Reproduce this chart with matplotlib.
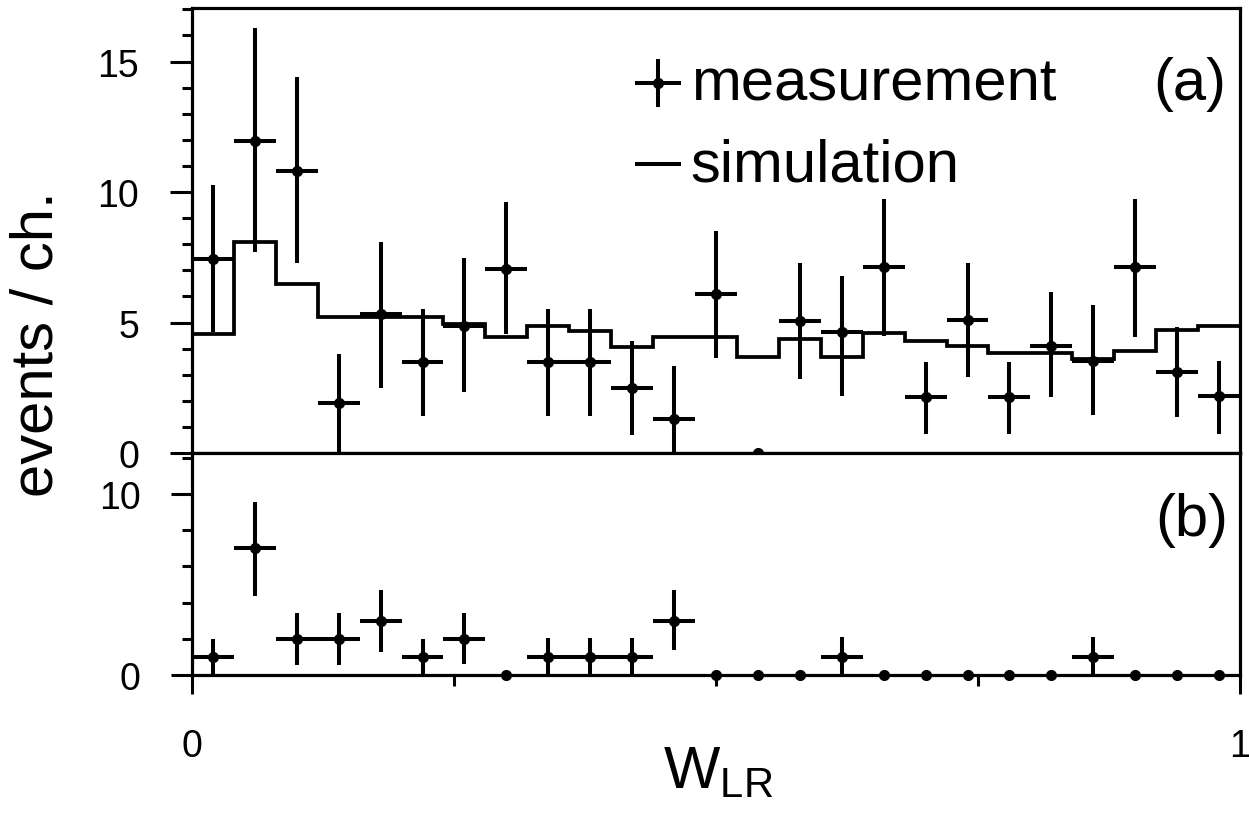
import numpy as np
import matplotlib
matplotlib.use('Agg')
import matplotlib.pyplot as plt
from matplotlib.ticker import MultipleLocator, FixedLocator

plt.rcParams['font.family'] = 'Liberation Sans'
plt.rcParams['mathtext.fontset'] = 'custom'
plt.rcParams['mathtext.rm'] = 'Liberation Sans'

# 25 channels in W_LR from 0 to 1
edges = np.linspace(0, 1, 26)
centers = (edges[:-1] + edges[1:]) / 2

# (a) measurement with error bar ends
meas_a = [7.43, 11.97, 10.82, 1.9, 5.33, 3.49, 4.88, 7.05, 3.49, 3.49, 2.48, 1.3, 6.09,
          0.0, 5.07, 4.63, 7.12, 2.14, 5.11, 2.14, 4.11, 3.54, 7.12, 3.12, 2.17]
hi_a = [10.27, 16.27, 14.4, 3.8, 8.1, 5.52, 7.47, 9.63, 5.52, 5.52, 4.3, 3.35, 8.52,
        0.0, 7.3, 6.8, 9.73, 3.48, 7.3, 3.48, 6.17, 5.66, 9.73, 4.82, 3.54]
lo_a = [4.63, 7.7, 7.3, 0.0, 2.49, 1.42, 2.35, 4.56, 1.42, 1.42, 0.7, 0.0, 3.64,
        0.0, 2.84, 2.2, 4.5, 0.73, 2.92, 0.73, 2.14, 1.44, 4.44, 1.38, 0.73]
# (a) simulation
sim_a = [4.55, 8.08, 6.47, 5.2, 5.2, 5.2, 4.94, 4.45, 4.87, 4.66, 4.05, 4.45, 4.45,
         3.67, 4.37, 3.67, 4.6, 4.3, 4.1, 3.82, 3.82, 3.6, 3.9, 4.7, 4.85]

# (b) measurement
meas_b = [1, 7, 2, 2, 3, 1, 2, 0, 1, 1, 1, 3, 0, 0, 0, 1, 0, 0, 0, 0, 0, 1, 0, 0, 0]
hi_b = [2.0, 9.55, 3.4, 3.4, 4.7, 2.0, 3.4, 0, 2.05, 2.05, 2.05, 4.7, 0, 0, 0, 2.1,
        0, 0, 0, 0, 0, 2.1, 0, 0, 0]
lo_b = [0, 4.36, 0.55, 0.55, 1.28, 0, 0.6, 0, 0, 0, 0, 1.36, 0, 0, 0, 0,
        0, 0, 0, 0, 0, 0, 0, 0, 0]

fig = plt.figure(figsize=(12.49, 8.2), dpi=100)
ax1 = fig.add_axes([0.1537, 0.4463, 0.8391, 0.5427])
ax2 = fig.add_axes([0.1537, 0.1756, 0.8391, 0.2707])

for ax in (ax1, ax2):
    for s in ax.spines.values():
        s.set_linewidth(2.3)
    ax.set_xlim(0, 1)

def draw_meas(ax, y, lo, hi):
    y = np.array(y, float)
    err = [y - np.array(lo), np.array(hi) - y]
    xerr = np.where(y > 0, 0.02, 0.0)
    ax.errorbar(centers, y, yerr=err, xerr=xerr, fmt='o', color='k', ms=7,
                elinewidth=2.9, capsize=0, clip_on=False, zorder=3)

# top panel
ax1.stairs(sim_a, edges, color='k', lw=2.7, baseline=None)
draw_meas(ax1, meas_a, lo_a, hi_a)
ax1.set_ylim(0, 17.05)
ax1.yaxis.set_major_locator(FixedLocator([0, 5, 10, 15]))
ax1.yaxis.set_minor_locator(MultipleLocator(1))
ax1.xaxis.set_major_locator(FixedLocator([]))
ax1.xaxis.set_minor_locator(FixedLocator([0.25, 0.5, 0.75]))
ax1.tick_params(axis='y', which='major', direction='out', length=16, width=2.2, pad=22, labelsize=27)
ax1.tick_params(axis='y', which='minor', direction='out', length=7, width=2.2)
ax1.tick_params(axis='x', which='minor', direction='out', length=8, width=2.2)

# legend
tr = ax1.transAxes
ax1.plot([0.425, 0.465], [0.831, 0.831], color='k', lw=2.9, transform=tr)
ax1.plot([0.445, 0.445], [0.782, 0.880], color='k', lw=2.9, transform=tr)
ax1.plot([0.445], [0.831], 'o', color='k', ms=7, transform=tr)
ax1.text(0.476, 0.795, 'measurement', fontsize=43, transform=tr, va='baseline', ha='left')
ax1.plot([0.425, 0.465], [0.649, 0.649], color='k', lw=2.9, transform=tr)
ax1.text(0.476, 0.613, 'simulation', fontsize=43, transform=tr, va='baseline', ha='left')
ax1.text(0.987, 0.795, '(a)', fontsize=43, transform=tr, va='baseline', ha='right')

# bottom panel
draw_meas(ax2, meas_b, lo_b, hi_b)
ax2.set_ylim(0, 12.25)
ax2.yaxis.set_major_locator(FixedLocator([0, 10]))
ax2.yaxis.set_minor_locator(MultipleLocator(2))
ax2.xaxis.set_major_locator(FixedLocator([0, 1]))
ax2.xaxis.set_minor_locator(FixedLocator([0.25, 0.5, 0.75]))
ax2.set_xticklabels(['0', '1'])
ax2.tick_params(axis='y', which='major', direction='out', length=15, width=2.2, pad=22, labelsize=27)
ax2.tick_params(axis='y', which='minor', direction='out', length=7, width=2.2)
ax2.tick_params(axis='x', which='major', direction='out', length=14, width=2.2, pad=24, labelsize=27)
ax2.tick_params(axis='x', which='minor', direction='out', length=8, width=2.2)
ax2.text(0.989, 0.70, '(b)', fontsize=43, transform=ax2.transAxes, va='center', ha='right')

fig.text(0.03, 0.58, 'events / ch.', fontsize=43, rotation=90, ha='center', va='center')
fig.text(0.575, 0.039, r'$\mathrm{W}_{\mathrm{LR}}$', fontsize=43, ha='center', va='baseline')

fig.savefig('out.png', dpi=100)
